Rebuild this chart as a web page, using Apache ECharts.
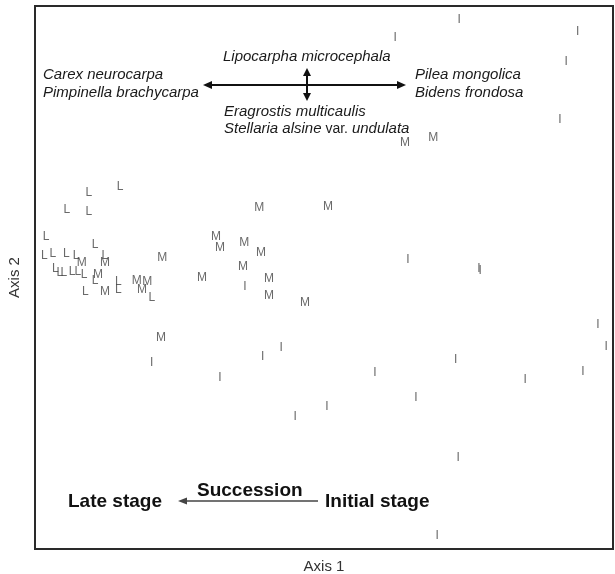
<!DOCTYPE html>
<html>
<head>
<meta charset="utf-8">
<script src="https://cdn.jsdelivr.net/npm/echarts@6/dist/echarts.min.js"></script>
<style>
  html, body { margin: 0; padding: 0; background: #fff; }
  #chart { width: 615px; height: 574px; }
</style>
</head>
<body>
<div id="chart"></div>
<script>
// ordination scores, both axes scaled 0-100
const lateStage = [
  [14.7, 66.7], [9.3, 65.6], [5.5, 62.4], [9.3, 62.1], [1.9, 57.5],
  [10.4, 56.0], [1.6, 54.0], [3.1, 54.3], [5.4, 54.3], [7.1, 54.1],
  [12.1, 54.0], [3.5, 51.6], [4.3, 50.8], [5.0, 50.8], [6.4, 51.0],
  [7.4, 51.0], [8.5, 50.5], [10.4, 49.5], [8.7, 47.3], [14.4, 49.2],
  [14.4, 47.7], [20.2, 46.2]
];
const middleStage = [
  [8.1, 52.7], [12.1, 52.7], [22.0, 53.6], [10.9, 50.5], [12.1, 47.3],
  [17.6, 49.5], [19.4, 49.2], [18.5, 47.7], [38.8, 62.8], [50.7, 63.0],
  [31.3, 57.5], [32.0, 55.4], [36.2, 56.4], [39.1, 54.5], [36.0, 51.9],
  [28.9, 49.9], [40.5, 49.7], [40.5, 46.6], [46.7, 45.3], [21.8, 39.0],
  [64.0, 74.8], [68.9, 75.7]
];
const initialStage = [
  [73.4, 97.4], [62.3, 94.1], [93.9, 95.2], [91.9, 89.7], [90.8, 79.0],
  [64.5, 53.2], [76.8, 51.6], [77.0, 51.2], [36.3, 48.3], [97.4, 41.4],
  [98.8, 37.2], [42.6, 37.0], [39.4, 35.4], [20.2, 34.3], [72.8, 34.8],
  [32.0, 31.5], [58.8, 32.4], [84.8, 31.1], [94.8, 32.6], [65.9, 27.8],
  [50.5, 26.2], [45.0, 24.3], [73.2, 16.9], [69.6, 2.4]
];
const stageMarks = ["L", "M", "I"];

const chart = echarts.init(document.getElementById("chart"));

const FONT = "Liberation Sans, Arial, sans-serif";
const ITALIC = { fontFamily: FONT, fontStyle: "italic", fontSize: 15, fill: "#1a1a1a" };
const BOLD = { fontFamily: FONT, fontWeight: "bold", fontSize: 19, fill: "#111" };

function italicText(text, x, y) {
  return {
    type: "text",
    x, y,
    style: Object.assign({ text, textVerticalAlign: "middle" }, ITALIC)
  };
}

function boldText(text, x, y) {
  return {
    type: "text",
    x, y,
    style: Object.assign({ text, textVerticalAlign: "middle" }, BOLD)
  };
}

// arrow head as a small triangle, tip at (x, y), pointing in dir
function arrowHead(x, y, dir, len, half, color) {
  let pts;
  if (dir === "left") pts = [[x, y], [x + len, y - half], [x + len, y + half]];
  if (dir === "right") pts = [[x, y], [x - len, y - half], [x - len, y + half]];
  if (dir === "up") pts = [[x, y], [x - half, y + len], [x + half, y + len]];
  if (dir === "down") pts = [[x, y], [x - half, y - len], [x + half, y - len]];
  return { type: "polygon", shape: { points: pts }, style: { fill: color } };
}

function scatterSeries(name, data, mark) {
  return {
    name,
    type: "scatter",
    data,
    symbolSize: 1,
    itemStyle: { color: "rgba(0,0,0,0)" },
    label: {
      show: true,
      position: "inside",
      formatter: mark,
      color: "#444",
      fontFamily: FONT,
      fontSize: 12
    },
    emphasis: { disabled: true }
  };
}

chart.setOption({
  animation: false,
  grid: {
    left: 35,
    top: 6,
    right: 2,
    bottom: 25,
    outerBoundsMode: "none",
    containLabel: false,
    show: true,
    borderColor: "#2a2a2a",
    borderWidth: 2,
    backgroundColor: "#fff"
  },
  xAxis: {
    type: "value",
    min: 0,
    max: 100,
    name: "Axis 1",
    nameLocation: "middle",
    nameGap: 10,
    nameTextStyle: { color: "#333", fontSize: 15, fontFamily: FONT },
    axisLine: { show: false },
    axisTick: { show: false },
    axisLabel: { show: false },
    splitLine: { show: false }
  },
  yAxis: {
    type: "value",
    min: 0,
    max: 100,
    name: "Axis 2",
    nameLocation: "middle",
    nameGap: 13,
    nameTextStyle: { color: "#333", fontSize: 15, fontFamily: FONT },
    axisLine: { show: false },
    axisTick: { show: false },
    axisLabel: { show: false },
    splitLine: { show: false }
  },
  series: [
    scatterSeries("Late", lateStage, stageMarks[0]),
    scatterSeries("Middle", middleStage, stageMarks[1]),
    scatterSeries("Initial", initialStage, stageMarks[2])
  ],
  graphic: [
    italicText("Lipocarpha microcephala", 223, 57),
    italicText("Carex neurocarpa", 43, 75),
    italicText("Pimpinella brachycarpa", 43, 93),
    italicText("Pilea mongolica", 415, 75),
    italicText("Bidens frondosa", 415, 93),
    italicText("Eragrostis multicaulis", 224, 112),
    {
      type: "text",
      x: 224,
      y: 129,
      style: {
        text: "{i|Stellaria alsine}{n| var. }{i|undulata}",
        textVerticalAlign: "middle",
        fill: "#1a1a1a",
        rich: {
          i: Object.assign({}, ITALIC),
          n: { fontFamily: FONT, fontSize: 14, fill: "#1a1a1a" }
        }
      }
    },
    { type: "line", shape: { x1: 210, y1: 85, x2: 399, y2: 85 }, style: { stroke: "#111", lineWidth: 2 } },
    arrowHead(203, 85, "left", 9, 4, "#111"),
    arrowHead(406, 85, "right", 9, 4, "#111"),
    { type: "line", shape: { x1: 307, y1: 75, x2: 307, y2: 94 }, style: { stroke: "#111", lineWidth: 2 } },
    arrowHead(307, 68, "up", 8, 4, "#111"),
    arrowHead(307, 101, "down", 8, 4, "#111"),
    boldText("Late stage", 68, 502),
    boldText("Succession", 197, 491),
    boldText("Initial stage", 325, 502),
    { type: "line", shape: { x1: 186, y1: 501, x2: 318, y2: 501 }, style: { stroke: "#444", lineWidth: 1.5 } },
    arrowHead(178, 501, "left", 9, 3.5, "#444")
  ]
});

window.addEventListener("resize", () => chart.resize());
</script>
</body>
</html>
